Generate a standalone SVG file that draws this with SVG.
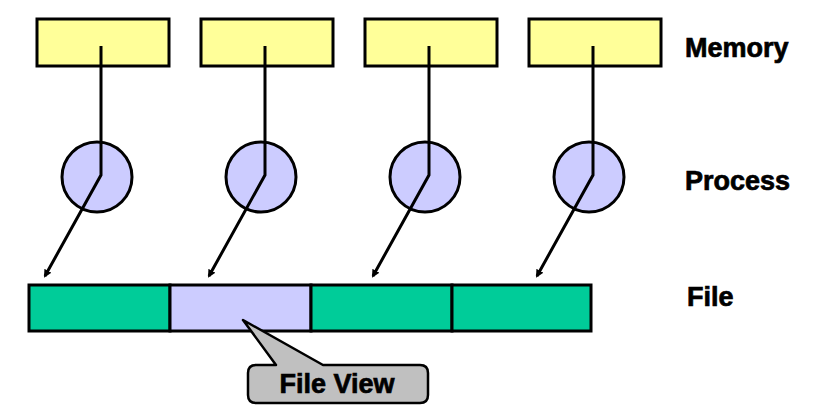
<svg xmlns="http://www.w3.org/2000/svg" width="824" height="416" viewBox="0 0 824 416">
<defs>
<style>
.mem{fill:#FFFF99;stroke:#000;stroke-width:3}
.proc{fill:#CCCCFF;stroke:#000;stroke-width:3}
.seg{stroke:#000;stroke-width:3}
.lbl{font-family:"Liberation Sans",Arial,sans-serif;font-weight:bold;font-size:27px;fill:#000;stroke:#000;stroke-width:0.7}
.conn{fill:none;stroke:#000;stroke-width:3}
</style>
<marker id="ah" markerWidth="8" markerHeight="8" refX="6" refY="4" orient="auto" markerUnits="userSpaceOnUse" viewBox="0 0 8 8">
<path d="M0,0 L8,4 L0,8 Z" fill="#000"/>
</marker>
</defs>
<rect width="824" height="416" fill="#fff"/>
<g id="memory1"><rect class="mem" x="37" y="19" width="132" height="47"/></g>
<g id="memory2"><rect class="mem" x="201" y="19" width="132" height="47"/></g>
<g id="memory3"><rect class="mem" x="365" y="19" width="132" height="47"/></g>
<g id="memory4"><rect class="mem" x="529" y="19" width="132" height="47"/></g>
<g id="process1"><circle class="proc" cx="97" cy="177" r="35"/></g>
<g id="process2"><circle class="proc" cx="261" cy="177" r="35"/></g>
<g id="process3"><circle class="proc" cx="425" cy="177" r="35"/></g>
<g id="process4"><circle class="proc" cx="589" cy="177" r="35"/></g>
<g id="file">
<rect class="seg" x="29" y="285" width="141" height="46" fill="#00CC99"/>
<rect class="seg" x="170" y="285" width="141" height="46" fill="#CCCCFF"/>
<rect class="seg" x="311" y="285" width="141" height="46" fill="#00CC99"/>
<rect class="seg" x="452" y="285" width="139" height="46" fill="#00CC99"/>
</g>
<g id="connectors">
<path class="conn" d="M101,46 V175 L45,276" marker-end="url(#ah)"/>
<path class="conn" d="M265,46 V175 L209,276" marker-end="url(#ah)"/>
<path class="conn" d="M429,46 V175 L373,276" marker-end="url(#ah)"/>
<path class="conn" d="M593,46 V175 L537,276" marker-end="url(#ah)"/>
</g>
<g id="fileview">
<path d="M258,365 H276 L243,320 L323,365 H420 Q428,365 428,373 V395 Q428,403 420,403 H256 Q248,403 248,395 V373 Q248,365 256,365 Z" fill="#C0C0C0" stroke="#000" stroke-width="2.5" stroke-linejoin="round"/>
<text class="lbl" x="337" y="393" text-anchor="middle" font-size="26">File View</text>
</g>
<g id="labels">
<text class="lbl" x="685" y="57">Memory</text>
<text class="lbl" x="685" y="190">Process</text>
<text class="lbl" x="687" y="306">File</text>
</g>
</svg>
